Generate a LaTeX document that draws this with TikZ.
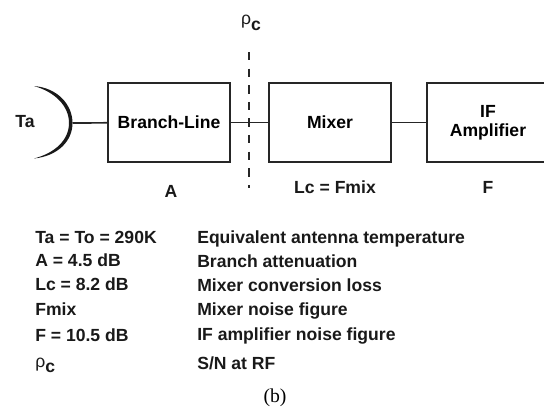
\documentclass[tikz,border=0pt]{standalone}
\usepackage{tikz}
\usepackage{xcolor}
\usepackage{fontspec}
\setmainfont{Liberation Sans}
\newfontfamily\capfont{Liberation Serif}
\tikzset{
    blockbox/.style={draw=black!85, line width=1.1pt, minimum width=3.05cm, minimum height=1.975cm, inner sep=0pt, align=center, font=\fontsize{12.5}{13.5}\selectfont\bfseries},
    tag/.style={font=\fontsize{12.5}{14}\selectfont\bfseries, text=black!90, inner sep=0pt},
    rowtext/.style={tag, anchor=base west},
    wire/.style={draw=black!85, line width=1.2pt}
}
\newcommand{\rhoc}{\textmd{ρ}\raisebox{-0.6ex}{\textbf{c}}}

\begin{document}
\begin{tikzpicture}[x=0.025cm,y=-0.025cm]
    \useasboundingbox (0,0) rectangle (544,408);
    \clip (0,0) rectangle (544,408);

    % Blocks
    \node[blockbox] (branch) at (169,122.5) {Branch-Line};
    \node[blockbox] (mixer) at (330,122.5) {Mixer};
    \node[blockbox] (amp) at (488,122.5) {IF\\Amplifier};

    % Antenna
    \coordinate (dish) at (72.5,123);
    \fill[black!90] (34,86) .. controls (58,88) and (72.5,105) .. (dish)
        .. controls (72.5,141) and (58,156) .. (34,158.5)
        .. controls (55,153) and (69,140) .. (69,123)
        .. controls (69,106) and (55,92) .. (34,86);
    \node[tag] (ta) at (25,122) {Ta};

    % Connections
    \draw[wire] (dish) -- (branch);
    \draw[wire] (branch) -- (mixer);
    \draw[wire] (mixer) -- (amp);

    % Reference plane
    \node[tag] (rho) at (251,23) {\rhoc};
    \coordinate (planetop) at (249,52);
    \coordinate (planebot) at (249,188);
    \draw[black!85, line width=1.2pt, dash pattern=on 6pt off 5.8pt] (planetop) -- (planebot);

    % Block labels
    \node[tag] (lblA) at (171,191) {A};
    \node[tag] (lblL) at (335,187) {Lc = Fmix};
    \node[tag] (lblF) at (488,187) {F};

    % Legend
    \node[rowtext] (v1) at (35,243) {Ta = To = 290K};
    \node[rowtext] (v2) at (35,266.5) {A = 4.5 dB};
    \node[rowtext] (v3) at (35,290) {Lc = 8.2 dB};
    \node[rowtext] (v4) at (35,315) {Fmix};
    \node[rowtext] (v5) at (35,341) {F = 10.5 dB};
    \node[rowtext] (v6) at (35,367) {\rhoc};
    \node[rowtext] (d1) at (197,243) {Equivalent antenna temperature};
    \node[rowtext] (d2) at (197,267) {Branch attenuation};
    \node[rowtext] (d3) at (197,291) {Mixer conversion loss};
    \node[rowtext] (d4) at (197,315) {Mixer noise figure};
    \node[rowtext] (d5) at (197,340) {IF amplifier noise figure};
    \node[rowtext] (d6) at (197,369.5) {S/N at RF};

    % Caption
    \node[inner sep=0pt, font=\capfont\fontsize{14}{16}\selectfont] (cap) at (275,398) {(b)};
\end{tikzpicture}
\end{document}
